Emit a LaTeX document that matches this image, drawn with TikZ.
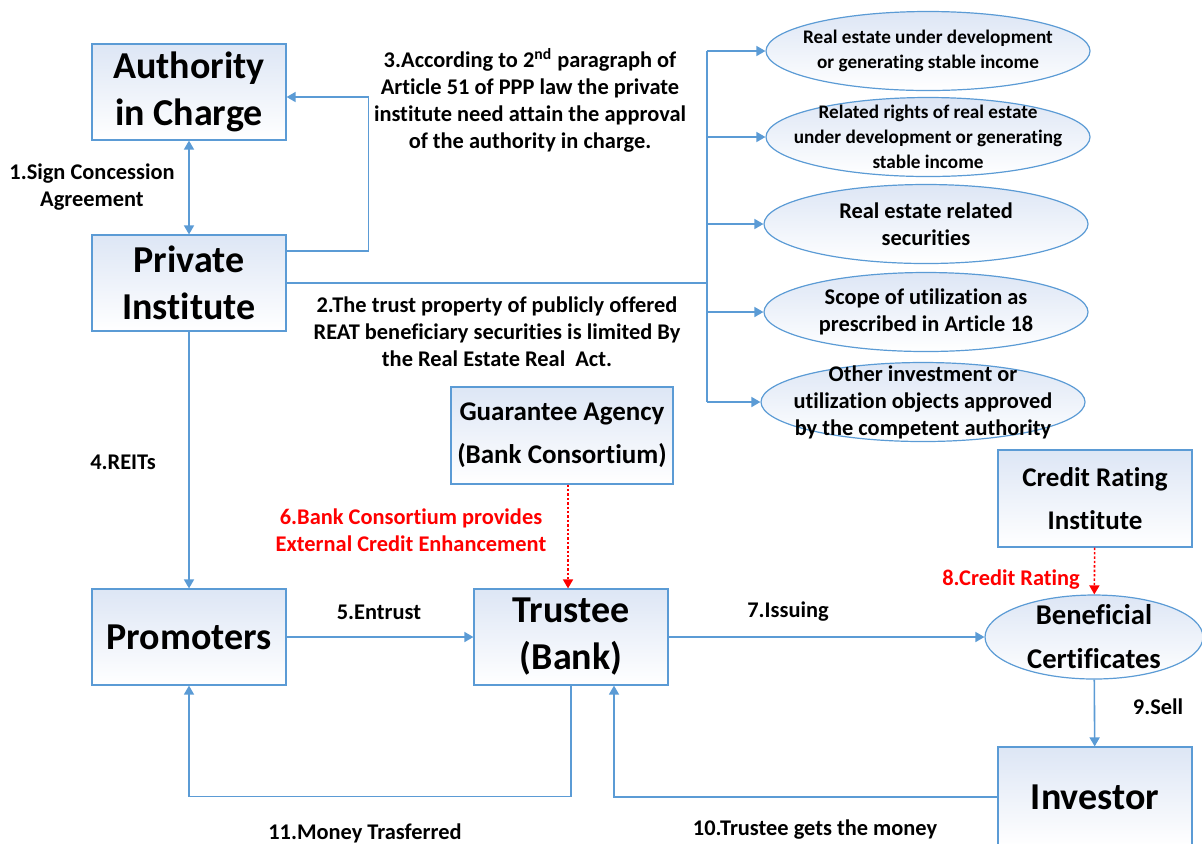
\documentclass[tikz,border=0pt]{standalone}
\usepackage{fontspec}
\setmainfont{Carlito}[Ligatures=NoCommon]
\usetikzlibrary{arrows.meta,shapes.geometric}

\definecolor{lineblue}{RGB}{91,155,213}
\definecolor{boxblue}{RGB}{221,230,245}

\tikzstyle{bigbox}=[rectangle,draw=lineblue,line width=0.6pt,top color=boxblue,bottom color=white,minimum width=97pt,minimum height=48pt,inner sep=0pt,align=center,font=\fontsize{19}{23.5}\selectfont\bfseries]
\tikzstyle{midbox}=[bigbox,font=\fontsize{13.5}{21.5}\selectfont\bfseries]
\tikzstyle{oval}=[ellipse,draw=lineblue,line width=0.6pt,top color=boxblue,bottom color=white,minimum width=162pt,minimum height=39.5pt,inner sep=0pt]
\tikzstyle{note}=[align=center,inner sep=0pt,font=\fontsize{11.2}{13.5}\selectfont\bfseries]
\tikzstyle{fine}=[note,font=\fontsize{9.6}{12.5}\selectfont\bfseries]
\tikzstyle{wire}=[draw=lineblue,line width=0.8pt]
\tikzstyle{boost}=[draw=red,line width=0.8pt,dash pattern=on 1.2pt off 1pt,->]

\begin{document}
\begin{tikzpicture}[x=0.5pt,y=-0.5pt,>={Triangle[length=4.5pt,width=5pt]}]
    \clip (0,0) rectangle (1202,843);
    %Boxes
    \node[bigbox] (auth) at (189,92) {Authority\\in Charge};
    \node[bigbox] (priv) at (189,283) {Private\\Institute};
    \node[bigbox] (prom) at (189,637) {Promoters};
    \node[bigbox] (trus) at (571,637) {Trustee\\(Bank)};
    \node[bigbox,minimum height=50pt] (inv) at (1095,797) {Investor};
    \node[midbox,minimum width=111pt,minimum height=48.5pt] (guar) at (562,435.5) {Guarantee Agency\\(Bank Consortium)};
    \node[midbox,minimum height=48.5pt] (rate) at (1095,498.5) {Credit Rating\\Institute};
    %Trust property
    \foreach \pos/\name/\sty/\txt in {
        {(928,51)/re1/fine/{Real estate under development\\or generating stable income}},
        {(928,137)/re2/fine/{Related rights of real estate\\under development or generating\\stable income}},
        {(926,224)/re3/note/{Real estate related\\securities}},
        {(926,312)/re4/note/{Scope of utilization as\\prescribed in Article 18}},
        {(923,402)/re5/note/{Other investment or\\utilization objects approved\\by the competent authority}}}
    {
        \node[oval] (\name) at \pos {};
        \node[\sty] (\name t) at \pos {\txt};
    }
    \node[oval,minimum width=109pt,minimum height=42pt] (bene) at (1094,637) {};
    \node[note,font=\fontsize{14.3}{22}\selectfont\bfseries] (bene t) at (bene) {Beneficial\\Certificates};
    %Connectors
    \draw[wire,<->] (auth) -- (priv);
    \draw[wire,->] ([yshift=16pt]priv.east) -- ++(82,0) |- ([yshift=-2.5pt]auth.east);
    \coordinate (trunk) at (707,283);
    \draw[wire] (priv.east) -- (trunk);
    \draw[wire] (trunk |- re1.west) -- (trunk |- re5.west);
    \foreach \n in {1,...,5}
        \draw[wire,->] (trunk |- re\n.west) -- (re\n.west);
    \draw[wire,->] (priv) -- (prom);
    \draw[wire,->] (prom) -- (trus);
    \draw[wire,->] (trus) -- (bene);
    \draw[wire,->] (bene) -- (inv);
    \draw[wire,->] (trus.south) -- ++(0,111) -| (prom.south);
    \draw[wire,->] (inv.west) -| ([xshift=21.5pt]trus.south);
    \draw[boost] ([xshift=3pt]guar.south) -- ([xshift=-1.5pt]trus.north);
    \draw[boost] (rate) -- (bene);
    %Labels
    \node[note] (l1) at (92,187) {1.Sign Concession\\Agreement};
    \node[note] (l2) at (497,332) {2.The trust property of publicly offered\\REAT beneficiary securities is limited By\\the Real Estate Real\ \ Act.};
    \node[note] (l3) at (530,100) {3.According to 2\textsuperscript{nd} paragraph of\\Article 51 of PPP law the private\\institute need attain the approval\\of the authority in charge.};
    \node[note] (l4) at (123,462) {4.REITs};
    \node[note] (l5) at (379,612) {5.Entrust};
    \node[note,red] (l6) at (411,530) {6.Bank Consortium provides\\External Credit Enhancement};
    \node[note] (l7) at (788,612) {7.Issuing};
    \node[note,red] (l8) at (1011,580) {8.Credit Rating};
    \node[note] (l9) at (1158,707) {9.Sell};
    \node[note] (l10) at (815,830) {10.Trustee gets the money};
    \node[note] (l11) at (365,833) {11.Money Trasferred};
\end{tikzpicture}
\end{document}
